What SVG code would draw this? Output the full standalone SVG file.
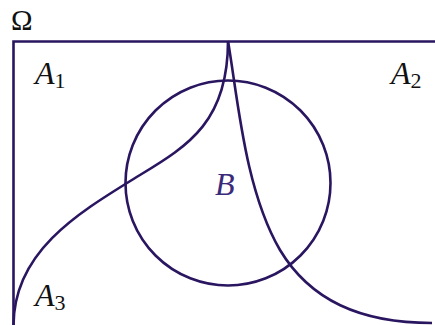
<svg xmlns="http://www.w3.org/2000/svg" width="435" height="325" viewBox="0 0 435 325">
<style>
.ln{fill:none;stroke:#2a1660;stroke-width:2.6}
.lb{font-family:'Liberation Serif',serif;font-style:italic;font-size:32px;fill:#111}
.sb{font-style:normal;font-size:22px}
</style>
<rect width="435" height="325" fill="#fff"/>
<text x="11" y="30" font-family="'Liberation Serif', serif" font-size="29" fill="#111">Ω</text>
<g id="connectors">
<path class="ln" d="M13.5,325 V41.5 H435"/>
<path id="leftcurve" class="ln" d="M228,41 C228,120 190,145 140,175 C80,212 14,250 13.5,325"/>
<path id="rightcurve" class="ln" d="M228,41 C238,100 245,190 280,250 C310,300 360,323 432,323"/>
</g>
<g id="B"><circle class="ln" cx="228" cy="183" r="102.5"/>
<text x="215" y="195" class="lb" style="fill:#3a2a7a">B</text></g>
<g id="A1"><text x="35" y="84" class="lb">A<tspan class="sb" dy="4">1</tspan></text></g>
<g id="A2"><text x="391" y="84" class="lb">A<tspan class="sb" dy="4">2</tspan></text></g>
<g id="A3"><text x="35" y="306" class="lb">A<tspan class="sb" dy="4">3</tspan></text></g>
</svg>
